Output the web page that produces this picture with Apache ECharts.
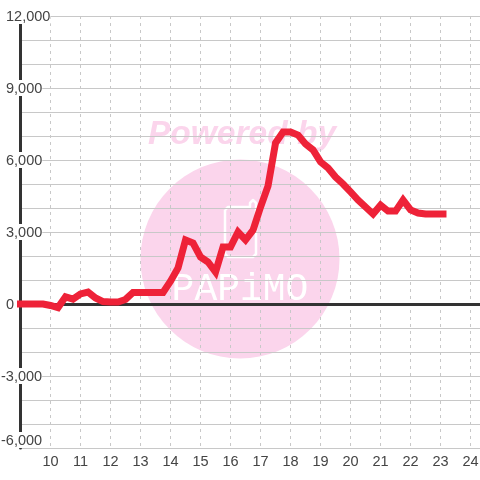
<!DOCTYPE html>
<html>
<head>
<meta charset="utf-8">
<style>html,body{margin:0;padding:0;background:#fff}#chart{width:480px;height:480px}</style>
<script src="https://cdn.jsdelivr.net/npm/echarts@6/dist/echarts.min.js"></script>
</head>
<body>
<div id="chart"></div>
<script>
// hours on the x axis, one reading every quarter hour, last one just past 23
var hours=[9,9.25,9.5,9.75,10,10.25,10.5,10.75,11,11.25,11.5,11.75,12,12.25,12.5,12.75,13,13.25,13.5,13.75,
    14,14.25,14.5,14.75,15,15.25,15.5,15.75,16,16.25,16.5,16.75,17,17.25,17.5,17.75,18,18.25,18.5,18.75,
    19,19.25,19.5,19.75,20,20.25,20.5,20.75,21,21.25,21.5,21.75,22,22.25,22.5,22.75,23,23.08];
var values=[0,0,0,0,-60,-150,300,200,420,500,250,100,80,80,190,480,480,480,480,480,
    950,1500,2670,2540,1960,1750,1330,2380,2380,3000,2670,3080,4040,4920,6710,7170,7170,7040,6670,6420,
    5920,5670,5290,5000,4670,4330,4040,3750,4120,3870,3870,4330,3920,3790,3750,3750,3750,3750];
var points=[];
for(var i=0;i<hours.length;i++){
    points.push([hours[i],values[i]]);
}
var pink='#fbd5ec';
var textColor='#444';

var myChart=echarts.init(document.getElementById('chart'),null,{renderer:'canvas'});
myChart.setOption({
    animation:false,
    backgroundColor:'#fff',
    grid:{left:20.5,width:460,top:16,bottom:32,outerBoundsMode:'none'},
    // papimo watermark sits under the grid lines
    graphic:[
        {type:'circle',z:-10,shape:{cx:240,cy:259,r:99.5},style:{fill:pink}},
        {type:'text',z:-10,x:242,y:135,style:{text:'Powered by',fill:pink,align:'center',verticalAlign:'middle',
            font:'italic bold 33.5px "Liberation Sans"'}},
        {type:'polyline',z:-9,shape:{points:[[225,210],[228,207],[250,207],[250,203],[253,200],[256,203],[256,254],[253,257],[228,257],[225,254],[225,210]]},
            style:{fill:'none',stroke:'#fff',lineWidth:2.5,lineJoin:'round'}},
        {type:'text',z:-9,x:240,y:290,style:{text:'PAPiMO',fill:'#fff',align:'center',verticalAlign:'middle',
            font:'38px "Liberation Mono"'}}
    ],
    xAxis:[
        {
            type:'value',min:9,max:24.33,interval:1,
            axisLine:{show:false,onZero:false},
            axisTick:{show:false},
            axisLabel:{show:true,showMinLabel:false,showMaxLabel:false,margin:6,fontFamily:'Liberation Sans',fontSize:14.5,color:textColor},
            splitLine:{show:true,lineStyle:{color:'#c8c8c8',width:1,type:[3,4]}}
        },
        {
            type:'value',min:9,max:24.33,interval:1,position:'bottom',
            axisLine:{show:true,onZero:true,lineStyle:{color:'#333',width:3}},
            axisTick:{show:false},axisLabel:{show:false},splitLine:{show:false}
        }
    ],
    yAxis:{
        type:'value',min:-6000,max:12000,interval:3000,
        axisLine:{show:true,onZero:false,lineStyle:{color:'#333',width:3}},
        axisTick:{show:false},
        minorTick:{show:false,splitNumber:3},
        minorSplitLine:{show:true,lineStyle:{color:'#c8c8c8',width:1}},
        splitLine:{show:true,lineStyle:{color:'#c8c8c8',width:1}},
        axisLabel:{
            align:'left',margin:19.5,backgroundColor:'#fff',lineHeight:16,verticalAlignMinLabel:'bottom',
            formatter:function(v){
                var s=echarts.format.addCommas(v);
                return v<0?'{n|'+s+'}':'{p|'+s+'}';
            },
            rich:{
                p:{fontFamily:'Liberation Sans',fontSize:14.5,color:textColor,padding:[2,0,0,5]},
                n:{fontFamily:'Liberation Sans',fontSize:14.5,color:textColor,padding:[2,0,0,0]}
            }
        }
    },
    series:[{
        type:'line',
        xAxisIndex:0,
        data:points,
        symbol:'none',
        clip:false,
        z:5,
        lineStyle:{color:'#ee2238',width:7,cap:'square',join:'miter'}
    }]
});
</script>
</body>
</html>
